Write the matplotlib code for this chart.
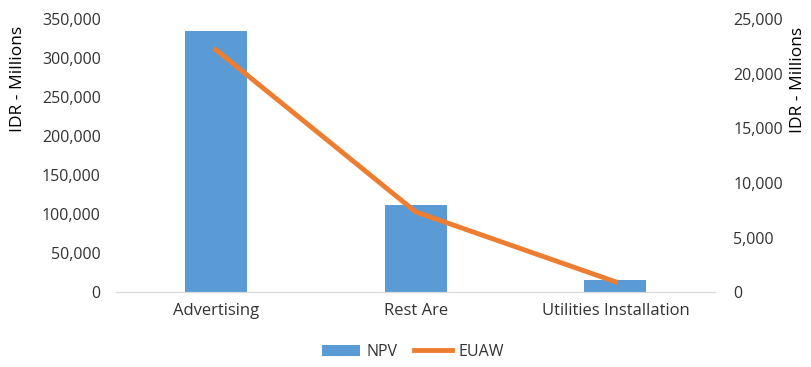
import matplotlib

matplotlib.use("Agg")
import matplotlib.pyplot as plt
import numpy as np
from matplotlib.ticker import FuncFormatter

plt.rcParams["font.family"] = ["Open Sans", "DejaVu Sans"]

categories = ["Advertising", "Rest Are", "Utilities Installation"]
npv = [334500, 111500, 15000]
euaw = [22200, 7350, 950]

BLUE = "#5B9BD5"
ORANGE = "#ED7D31"
TEXT = "#333333"

fig = plt.figure(figsize=(8.11, 3.67), dpi=100)
ax = fig.add_axes([0.143, 0.204, 0.739, 0.744])
ax2 = ax.twinx()

x = np.arange(len(categories))
bars = ax.bar(x, npv, width=0.31, color=BLUE, label="NPV", zorder=2)
line, = ax2.plot(x, euaw, color=ORANGE, linewidth=3.5, label="EUAW", zorder=3)

ax.set_xlim(-0.5, len(categories) - 0.5)
ax.set_ylim(0, 350000)
ax.set_yticks(np.arange(0, 350001, 50000))
ax2.set_ylim(0, 25000)
ax2.set_yticks(np.arange(0, 25001, 5000))

fmt = FuncFormatter(lambda v, _: f"{int(v):,}")
ax.yaxis.set_major_formatter(fmt)
ax2.yaxis.set_major_formatter(fmt)

ax.set_xticks(x)
ax.set_xticklabels(categories)

for a in (ax, ax2):
    for s in ("top", "left", "right"):
        a.spines[s].set_visible(False)
    a.spines["bottom"].set_color("#D9D9D9")
    a.tick_params(length=0, labelsize=11.5, colors=TEXT)

ax.tick_params(axis="y", pad=11)
ax2.tick_params(axis="y", pad=13)
ax.tick_params(axis="x", labelsize=12, pad=8)
ax2.patch.set_visible(False)

# axis titles sit near the top of each axis
fig.text(18 / 811, 1 - 79 / 367, "IDR - Millions", rotation=90, ha="center", va="center",
         fontsize=12.5, color="black")
fig.text(798 / 811, 1 - 80 / 367, "IDR - Millions", rotation=90, ha="center", va="center",
         fontsize=12.5, color="black")

fig.legend(handles=[bars, line], labels=["NPV", "EUAW"], loc="center",
           bbox_to_anchor=(413 / 811, 1 - 352 / 367), ncol=2, frameon=False, fontsize=11.5,
           handlelength=2.4, handletextpad=0.4, columnspacing=1.0, labelcolor=TEXT)

fig.savefig("out.png", dpi=100, facecolor="white")
